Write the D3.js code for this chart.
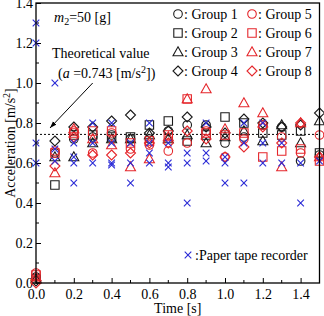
<!DOCTYPE html>
<html><head><meta charset="utf-8">
<script src="https://cdn.jsdelivr.net/npm/d3@7"></script>
<style>body{margin:0;background:#fff}svg{display:block}text{font-family:"Liberation Serif","Times New Roman",serif;fill:#000}</style>
</head><body><script>
const times=[0.0,0.1,0.2,0.3,0.4,0.5,0.6,0.7,0.8,0.9,1.0,1.1,1.2,1.3,1.4,1.5];
const group1=[0.03,0.65,0.72,0.73,0.74,0.72,0.72,0.76,0.79,0.79,0.70,0.73,0.79,0.78,0.61,0.64];
const group2=[0.02,0.49,0.74,0.74,0.73,0.73,0.79,0.81,0.71,0.74,0.83,0.80,0.75,0.74,0.76,0.65];
const group3=[0.02,0.63,0.63,0.70,0.72,0.72,0.74,0.72,0.74,0.70,0.73,0.76,0.71,0.79,0.70,0.81];
const group4=[0.01,0.71,0.78,0.78,0.81,0.84,0.75,0.76,0.83,0.78,0.75,0.82,0.80,0.78,0.79,0.85];
const group5=[0.05,0.66,0.76,0.65,0.75,0.67,0.69,0.66,0.70,0.76,0.63,0.72,0.79,0.73,0.65,0.74];
const group6=[0.04,0.65,0.75,0.76,0.76,0.70,0.71,0.74,0.92,0.75,0.74,0.75,0.63,0.66,0.67,0.61];
const group7=[0.03,0.55,0.77,0.72,0.69,0.58,0.62,0.73,0.92,0.97,0.77,0.90,0.85,0.58,0.80,0.63];
const group8=[0.00,0.585,0.73,0.64,0.64,0.65,0.70,0.70,0.76,0.72,0.63,0.68,0.78,0.70,0.80,0.63];
const tapeTimes=[0.0,0.0,0.0,0.0,0.1,0.1,0.1,0.2,0.2,0.2,0.2,0.3,0.3,0.3,0.4,0.4,0.4,0.4,0.5,0.5,0.5,0.6,0.6,0.6,0.6,0.7,0.7,0.7,0.8,0.8,0.8,0.9,0.9,0.9,1.0,1.0,1.0,1.1,1.1,1.1,1.2,1.2,1.2,1.3,1.3,1.4,1.4,1.5];
const tapeValues=[1.3,1.2,0.7,0.6,1.0,0.67,0.61,0.70,0.63,0.60,0.50,0.80,0.70,0.60,0.80,0.70,0.60,0.59,0.70,0.60,0.50,0.80,0.70,0.65,0.60,0.70,0.60,0.58,0.65,0.60,0.40,0.80,0.65,0.61,0.63,0.60,0.50,0.80,0.70,0.50,0.80,0.70,0.60,0.70,0.60,0.60,0.40,0.61];
const groupNames=["Group 1","Group 2","Group 3","Group 4","Group 5","Group 6","Group 7","Group 8"];
const xTicks=[0.0,0.2,0.4,0.6,0.8,1.0,1.2,1.4];
const yTicks=[0.0,0.2,0.4,0.6,0.8,1.0,1.2,1.4];
const theoretical=0.743;

const groups=[group1,group2,group3,group4,group5,group6,group7,group8];
const shapes=["circle","square","triangle","diamond","circle","square","triangle","diamond"];
const colors=["#1a1a1a","#1a1a1a","#1a1a1a","#1a1a1a","#e5262b","#e5262b","#e5262b","#e5262b"];
const blue="#2b2bd6";
const FS=14;

const W=324,H=316;
const x=d3.scaleLinear().domain([0,1.5]).range([36,319.5]);
const y=d3.scaleLinear().domain([0,1.4]).range([283,3]);
const svg=d3.select("body").append("svg").attr("width",W).attr("height",H);

function shapePath(s,cx,cy){
  const p=d3.path();
  if(s==="circle"){p.moveTo(cx+4.3,cy);p.arc(cx,cy,4.3,0,2*Math.PI);}
  else if(s==="square"){p.rect(cx-4.2,cy-4.2,8.4,8.4);}
  else if(s==="triangle"){p.moveTo(cx,cy-5.2);p.lineTo(cx+5,cy+3.8);p.lineTo(cx-5,cy+3.8);p.closePath();}
  else {p.moveTo(cx,cy-5);p.lineTo(cx+5,cy);p.lineTo(cx,cy+5);p.lineTo(cx-5,cy);p.closePath();}
  return p.toString();
}
function crossPath(cx,cy){const r=3.3;return `M${cx-r},${cy-r}L${cx+r},${cy+r}M${cx-r},${cy+r}L${cx+r},${cy-r}`;}

// axes (inner ticks)
const minor=d3.range(0,15).map(i=>i/10);
svg.append("g").attr("transform","translate(36,0)")
  .call(d3.axisLeft(y).tickValues(yTicks).tickSize(-5).tickPadding(3).tickFormat(d3.format(".1f")))
  .call(g=>{g.select(".domain").remove();g.selectAll("text").attr("font-size",FS).attr("font-family","Liberation Serif").attr("fill","#000");g.selectAll("line").attr("stroke","#000");});
svg.append("g").attr("transform","translate(0,283)")
  .call(d3.axisBottom(x).tickValues(xTicks).tickSize(-5).tickPadding(6).tickFormat(d3.format(".1f")))
  .call(g=>{g.select(".domain").remove();g.selectAll("text").attr("font-size",FS).attr("font-family","Liberation Serif").attr("fill","#000");g.selectAll("line").attr("stroke","#000");});
svg.append("g").selectAll("line").data(minor.filter(v=>!yTicks.some(t=>Math.abs(t-v)<1e-9))).join("line")
  .attr("x1",36).attr("x2",39).attr("y1",d=>y(d)).attr("y2",d=>y(d)).attr("stroke","#000");
svg.append("g").selectAll("line").data(minor.filter(v=>!xTicks.some(t=>Math.abs(t-v)<1e-9))).join("line")
  .attr("y1",283).attr("y2",280).attr("x1",d=>x(d)).attr("x2",d=>x(d)).attr("stroke","#000");

// theoretical line
svg.append("line").attr("x1",x(0)).attr("x2",x(1.5)).attr("y1",y(theoretical)).attr("y2",y(theoretical))
  .attr("stroke","#000").attr("stroke-width",1).attr("stroke-dasharray","2,2");

// group markers
groups.forEach((vals,gi)=>{
  svg.append("g").selectAll("path").data(vals.map((v,i)=>[times[i],v])).join("path")
    .attr("d",d=>shapePath(shapes[gi],x(d[0]),y(d[1])))
    .attr("fill","none").attr("stroke",colors[gi]).attr("stroke-width",1.1);
});
// tape recorder
svg.append("g").selectAll("path").data(tapeValues.map((v,i)=>[tapeTimes[i],v])).join("path")
  .attr("d",d=>crossPath(x(d[0]),y(d[1]))).attr("stroke",blue).attr("stroke-width",1.1).attr("fill","none");

// frame
svg.append("rect").attr("x",36).attr("y",y(1.4)).attr("width",x(1.5)-36).attr("height",283-y(1.4))
  .attr("fill","none").attr("stroke","#000").attr("stroke-width",1.3);

// annotations
const m=svg.append("text").attr("x",54).attr("y",22).attr("font-size",FS);
m.append("tspan").attr("font-style","italic").text("m");
m.append("tspan").attr("dy",3).attr("font-size",10).text("2");
m.append("tspan").attr("dy",-3).text("=50 [g]");
svg.append("text").attr("x",52).attr("y",58).attr("font-size",FS).text("Theoretical value");
const a=svg.append("text").attr("x",58).attr("y",78).attr("font-size",FS);
a.append("tspan").text("(");
a.append("tspan").attr("font-style","italic").text("a");
a.append("tspan").text(" =0.743 [m/s");
a.append("tspan").attr("dy",-5).attr("font-size",10).text("2");
a.append("tspan").attr("dy",5).text("])");
svg.append("defs").append("marker").attr("id","ah").attr("viewBox","0 0 10 10").attr("refX",10).attr("refY",5)
  .attr("markerWidth",7).attr("markerHeight",7).attr("orient","auto")
  .append("path").attr("d","M0,1.5L10,5L0,8.5Z").attr("fill","#000");
svg.append("line").attr("x1",x(0.30)).attr("y1",y(1.0)).attr("x2",x(0.074)).attr("y2",y(0.775))
  .attr("stroke","#000").attr("stroke-width",1).attr("marker-end","url(#ah)");

// legend
groupNames.forEach((n,i)=>{
  const col=Math.floor(i/4),row=i%4;
  const mx=col?252:178, my=14+row*19;
  svg.append("path").attr("d",shapePath(shapes[i],mx,my)).attr("fill","none").attr("stroke",colors[i]).attr("stroke-width",1.1);
  svg.append("text").attr("x",mx+6).attr("y",my+5).attr("font-size",FS).text(": "+n);
});
svg.append("path").attr("d",crossPath(188,255)).attr("stroke",blue).attr("stroke-width",1.1);
svg.append("text").attr("x",195).attr("y",260).attr("font-size",FS).text(":Paper tape recorder");

// axis titles
svg.append("text").attr("x",(36+319.5)/2).attr("y",312.5).attr("text-anchor","middle").attr("font-size",FS).text("Time [s]");
const yl=svg.append("text").attr("transform","translate(15,143) rotate(-90)").attr("text-anchor","middle").attr("font-size",FS);
yl.append("tspan").text("Acceleration [m/s");
yl.append("tspan").attr("dy",-5).attr("font-size",10).text("2");
yl.append("tspan").attr("dy",5).text("]");
</script></body></html>
